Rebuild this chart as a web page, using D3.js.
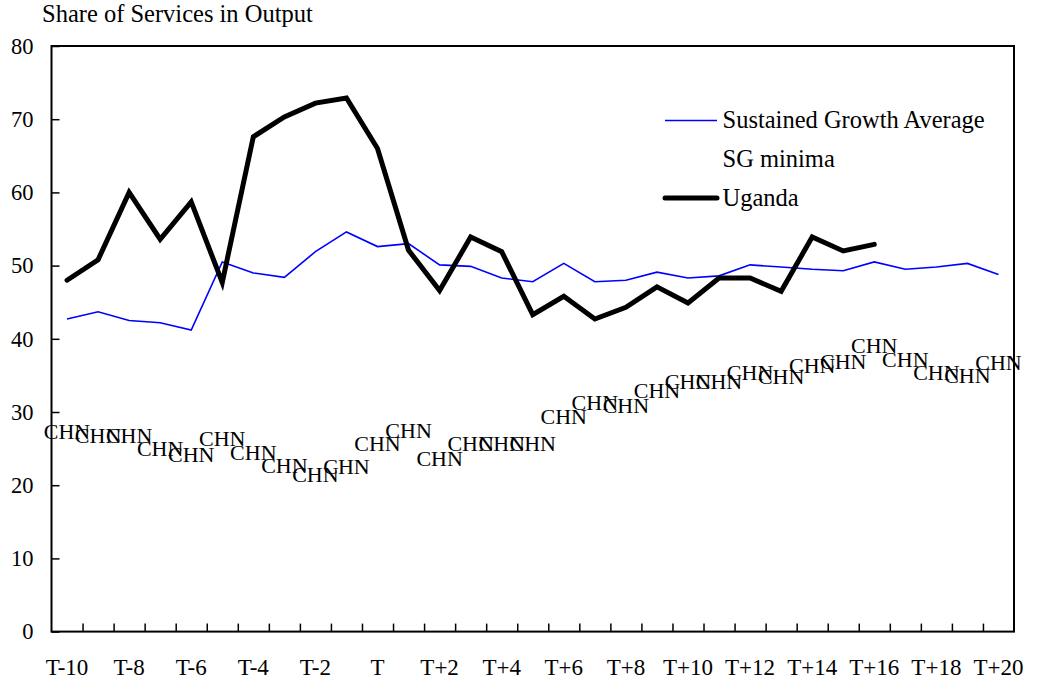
<!DOCTYPE html>
<html>
<head>
<meta charset="utf-8">
<script src="https://cdn.jsdelivr.net/npm/d3@7"></script>
<style>
  body { margin: 0; background: #fff; }
  svg { display: block; font-family: "Liberation Serif", "Times New Roman", serif; }
  .axis path, .axis line { stroke: #000; }
  .axis text { fill: #000; }
</style>
</head>
<body>
<svg id="chart" width="1037" height="682"></svg>
<script>
// categories T-10 .. T+20
var periods = ["T-10","T-9","T-8","T-7","T-6","T-5","T-4","T-3","T-2","T-1","T",
  "T+1","T+2","T+3","T+4","T+5","T+6","T+7","T+8","T+9","T+10",
  "T+11","T+12","T+13","T+14","T+15","T+16","T+17","T+18","T+19","T+20"];

var sgAverage = [42.7,43.7,42.5,42.2,41.2,50.5,49.0,48.4,51.9,54.6,52.6,
  53.0,50.1,49.9,48.3,47.8,50.3,47.8,48.0,49.1,48.3,
  48.6,50.1,49.8,49.5,49.3,50.5,49.5,49.8,50.3,48.8];

// SG minima, every point is labelled CHN
var sgMinima = [27.3,26.8,26.8,25.0,24.2,26.3,24.5,22.7,21.4,22.5,25.7,
  27.5,23.6,25.6,25.6,25.7,29.4,31.2,30.9,32.9,34.1,
  34.1,35.4,34.8,36.3,36.9,39.1,37.2,35.4,34.9,36.7];
var minimaLabel = "CHN";

// Uganda stops at T+16
var uganda = [48.0,50.8,60.0,53.6,58.7,47.7,67.6,70.3,72.2,72.9,66.0,
  52.1,46.6,53.9,51.9,43.3,45.8,42.7,44.3,47.1,44.9,
  48.3,48.3,46.5,53.9,52.0,52.9];

var yTicks = [0,10,20,30,40,50,60,70,80];
var shownPeriods = periods.filter(function(d, i) { return i % 2 == 0; });

var plotLeft = 51.5, plotRight = 1014, plotTop = 46, plotBottom = 631.6;

var svg = d3.select("#chart");

var xScale = d3.scaleBand().domain(periods).range([plotLeft, plotRight]);
var xEdge = d3.scaleLinear().domain([0, periods.length]).range([plotLeft, plotRight]);
var yScale = d3.scaleLinear().domain([0, 80]).range([plotBottom, plotTop]);

function xPos(d, i) { return xScale(periods[i]) + xScale.bandwidth() / 2; }

// title
svg.append("text")
    .attr("x", 42)
    .attr("y", 22)
    .style("font-size", "24.5px")
    .text("Share of Services in Output");

// y axis, ticks inside
svg.append("g")
    .attr("class", "axis")
    .attr("transform", "translate(" + plotLeft + ",0)")
    .call(d3.axisLeft(yScale).tickValues(yTicks).tickSize(-8).tickPadding(18))
    .call(function(g) {
        g.attr("font-family", null).attr("font-size", null);
        g.select(".domain").remove();
        g.selectAll("line").attr("stroke-width", 1.5);
        g.selectAll("text").style("font-size", "22.5px");
    });

// x tick marks between categories
svg.append("g")
    .attr("class", "axis")
    .attr("transform", "translate(0," + plotBottom + ")")
    .call(d3.axisBottom(xEdge).tickValues(d3.range(1, periods.length)).tickSize(-8).tickFormat(""))
    .call(function(g) {
        g.select(".domain").remove();
        g.selectAll("line").attr("stroke-width", 1.5);
    });

// x labels every second period
svg.append("g")
    .attr("class", "axis")
    .attr("transform", "translate(0," + plotBottom + ")")
    .call(d3.axisBottom(xScale).tickValues(shownPeriods).tickSize(0).tickPadding(27))
    .call(function(g) {
        g.attr("font-family", null).attr("font-size", null);
        g.select(".domain").remove();
        g.selectAll("text").style("font-size", "23px");
    });

// frame
svg.append("rect")
    .attr("x", plotLeft)
    .attr("y", plotTop)
    .attr("width", plotRight - plotLeft)
    .attr("height", plotBottom - plotTop)
    .attr("fill", "none")
    .attr("stroke", "#000")
    .attr("stroke-width", 2);

var line = d3.line()
    .x(xPos)
    .y(function(d) { return yScale(d); });

svg.append("path")
    .datum(sgAverage)
    .attr("fill", "none")
    .attr("stroke", "#0000ff")
    .attr("stroke-width", 1.6)
    .attr("d", line);

svg.append("path")
    .datum(uganda)
    .attr("fill", "none")
    .attr("stroke", "#000")
    .attr("stroke-width", 5)
    .attr("stroke-linejoin", "miter")
    .attr("stroke-linecap", "round")
    .attr("d", line);

// CHN labels for SG minima
svg.append("g")
    .selectAll("text")
    .data(sgMinima)
    .enter().append("text")
    .attr("x", xPos)
    .attr("y", function(d) { return yScale(d); })
    .attr("dy", "0.33em")
    .attr("text-anchor", "middle")
    .style("font-size", "22px")
    .text(minimaLabel);

// legend
var legendItems = [
    { name: "Sustained Growth Average", color: "#0000ff", width: 1.6 },
    { name: "SG minima", color: null, width: 0 },
    { name: "Uganda", color: "#000", width: 5 }
];

var legend = svg.append("g").attr("transform", "translate(665,128)");

var rows = legend.selectAll("g")
    .data(legendItems)
    .enter().append("g")
    .attr("transform", function(d, i) { return "translate(0," + (i * 38.8) + ")"; });

rows.filter(function(d) { return d.color; })
    .append("line")
    .attr("x1", 0).attr("x2", 52)
    .attr("y1", -7.5).attr("y2", -7.5)
    .attr("stroke", function(d) { return d.color; })
    .attr("stroke-width", function(d) { return d.width; })
    .attr("stroke-linecap", function(d) { return d.width > 2 ? "round" : "butt"; });

rows.append("text")
    .attr("x", 57.5)
    .attr("y", 0)
    .style("font-size", "24.5px")
    .text(function(d) { return d.name; });
</script>
</body>
</html>
